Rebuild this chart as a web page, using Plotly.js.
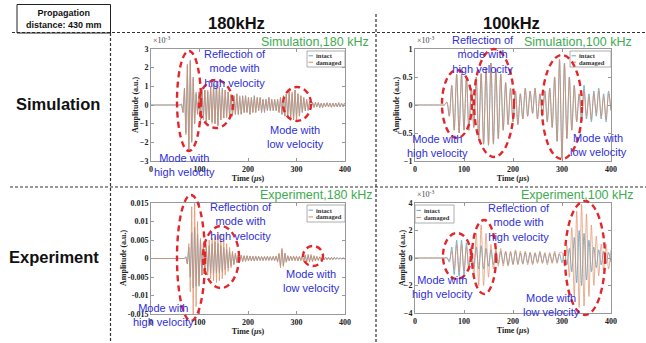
<!DOCTYPE html>
<html><head><meta charset="utf-8">
<script src="https://cdn.plot.ly/plotly-3.0.1.min.js"></script>
<style>html,body{margin:0;padding:0;background:#fff;}#chart{width:646px;height:343px;}</style>
</head><body><div id="chart"></div>
<script>
// ---- data (amplitudes in units of 1e-3, time in microseconds) ----
const step180 = 3;   // sample interval for 180 kHz records (us)
const step100 = 5;   // sample interval for 100 kHz records (us)

const sim180Intact = [0,0,0,0,0,0,0,0,0,0,0,0,0,0,0,0,0,0,0,0,
 0,0.05,-0.4,0.9,-1.5,2.1,-2.4,2.4,-2.0,1.5,-1.0,0.6,-0.5,0.7,-0.8,0.9,-0.7,0.8,-0.9,0.7,
 -0.8,1.0,-0.9,1.1,-1.0,1.2,-1.1,0.9,-0.8,0.9,-0.7,0.8,-0.6,0.7,-0.6,0.5,-0.6,0.5,-0.5,0.6,
 -0.5,0.4,-0.5,0.5,-0.4,0.5,-0.4,0.4,-0.5,0.4,-0.4,0.5,-0.4,0.4,-0.3,0.4,-0.4,0.3,-0.4,0.3,
 -0.3,0.4,-0.3,0.3,-0.3,0.3,-0.3,0.3,-0.4,0.4,-0.5,0.5,-0.6,0.6,-0.6,0.7,-0.7,0.6,-0.8,0.8,
 -0.7,0.6,-0.6,0.5,-0.4,0.4,-0.3,0.3,-0.3,0.2,-0.2,0.15,-0.1,0.15,-0.1,0.12,-0.15,0.1,-0.12,0.1,
 -0.1,0.12,-0.1,0.1,-0.12,0.1,-0.1,0.1,-0.1,0.12,-0.1,0.1,-0.1,0.1];
const sim180Damaged = [0,0,0,0,0,0,0,0,0,0,0,0,0,0,0,0,0,0,0,0,
 0,0.05,-0.4,0.9,-1.6,2.2,-2.5,2.3,-1.9,1.4,-1.0,0.7,-0.5,0.7,-0.9,0.9,-0.8,0.8,-0.9,0.8,
 -0.8,1.0,-1.0,1.1,-1.0,1.3,-1.1,1.0,-0.8,0.8,-0.7,0.8,-0.7,0.7,-0.6,0.6,-0.6,0.5,-0.5,0.6,
 -0.5,0.5,-0.5,0.4,-0.4,0.5,-0.4,0.4,-0.5,0.4,-0.4,0.4,-0.4,0.4,-0.3,0.4,-0.4,0.3,-0.3,0.3,
 -0.3,0.4,-0.3,0.3,-0.3,0.3,-0.3,0.3,-0.4,0.4,-0.5,0.5,-0.6,0.6,-0.7,0.7,-0.7,0.7,-0.8,0.8,
 -0.8,0.6,-0.6,0.5,-0.4,0.4,-0.3,0.3,-0.2,0.2,-0.2,0.15,-0.15,0.12,-0.1,0.15,-0.1,0.1,-0.15,0.1,
 -0.1,0.12,-0.1,0.1,-0.12,0.1,-0.1,0.1,-0.1,0.12,-0.1,0.1,-0.1,0.1];

const sim100Intact = [0,0,0,0,0,0,0,0,0,0,0,0,
 0,0.05,-0.2,0.35,-0.45,0.55,-0.5,0.55,-0.45,0.5,-0.45,0.3,-0.4,0.5,-0.6,0.55,-0.7,0.65,-0.72,0.75,
 -0.7,0.65,-0.6,0.55,-0.45,0.4,-0.35,0.3,-0.3,0.25,-0.35,0.2,-0.25,0.3,-0.2,0.25,-0.15,0.3,-0.25,0.2,
 -0.2,0.25,-0.3,0.3,-0.4,0.5,-0.65,0.8,-0.95,0.75,-0.6,0.5,-0.45,0.35,-0.3,0.2,-0.3,0.35,-0.25,0.2,
 -0.3,0.25,-0.2,0.3,-0.25,0.2,-0.3,0.25,-0.1];
const sim100Damaged = [0,0,0,0,0,0,0,0,0,0,0,0,
 0,0.05,-0.2,0.35,-0.45,0.55,-0.5,0.55,-0.45,0.5,-0.45,0.3,-0.4,0.5,-0.6,0.57,-0.7,0.67,-0.7,0.75,
 -0.68,0.65,-0.6,0.55,-0.45,0.4,-0.35,0.3,-0.3,0.25,-0.35,0.2,-0.25,0.3,-0.2,0.25,-0.15,0.3,-0.25,0.2,
 -0.2,0.25,-0.3,0.3,-0.4,0.5,-0.65,0.82,-0.95,0.75,-0.6,0.5,-0.45,0.35,-0.3,0.2,-0.2,0.25,-0.2,0.15,
 -0.25,0.2,-0.15,0.25,-0.2,0.15,-0.25,0.2,-0.1];

const exp180Intact = [0,0,0,0,0,0,0,0,0,0,0,0,0,0,0,0,0,0,0,0,0,0,0,
 0,0.5,-1.5,3,-5,7,-8,8.5,-7.5,6.5,-7.5,5,-4.5,3.5,-3,3,-3.5,3.5,-4,4,
 -4,4.5,-4,4,-4,3.5,-3.5,3,-3,2.5,-2.5,2,-2,1.5,-1.5,1.2,-1.0,0.9,-0.8,0.9,
 -0.8,0.7,-0.8,0.7,-0.6,0.7,-0.6,0.6,-0.7,0.6,-0.5,0.6,-0.5,0.5,-0.6,0.5,-0.5,0.6,-0.5,0.5,
 -0.5,0.6,-0.5,0.6,-0.8,1.2,-2.0,2.4,-2.0,1.4,-1.0,0.7,-0.6,0.6,-0.5,0.6,-0.5,0.5,-0.6,0.5,
 -0.5,0.6,-0.7,0.8,-0.9,0.8,-0.7,0.8,-0.7,0.6,-0.6,0.5,-0.5,0.4,-0.4,0.4,-0.3,0.4,-0.3,0.3,
 -0.3,0.3,-0.3,0.3,-0.2,0.3,-0.2,0.2,-0.2,0.2,-0.2];
const exp180Damaged = [0,0,0,0,0,0,0,0,0,0,0,0,0,0,0,0,0,0,0,0,0,0,0,0,
 0.3,-1.5,4,-9,14,-16,16.5,-13,10,-7,5.5,-4.5,4,-3.5,4,-4.5,5,-5.5,5.5,-6,
 6,-6.5,7,-6,6.5,-5.5,5,-4.5,4,-3.5,3,-2.5,2,-1.8,1.5,-1.2,1.0,-0.9,0.8,-0.9,
 0.8,-0.7,0.8,-0.7,0.6,-0.7,0.6,-0.6,0.7,-0.6,0.5,-0.6,0.5,-0.5,0.6,-0.5,0.5,-0.6,0.5,-0.5,
 0.5,-0.6,0.7,-1.0,1.5,-2.5,2.8,-2.2,1.5,-1.0,0.8,-0.7,0.6,-0.6,0.7,-0.6,0.6,-0.7,0.6,-0.6,
 0.7,-0.8,1.0,-1.1,1.2,-1.0,1.1,-0.9,0.8,-0.7,0.6,-0.5,0.5,-0.4,0.4,-0.4,0.3,-0.3,0.3,-0.3,
 0.3,-0.2,0.3,-0.2,0.2,-0.2,0.2,-0.2,0.2,-0.1];

const exp100Intact = [0,0,0,0,0,0,0,0,0,0,0,0,0,
 0.05,-0.3,0.8,-1.2,1.3,-1.3,1.3,-1.2,1.1,-0.9,0.8,-0.7,0.8,-0.8,0.9,-0.8,0.7,-0.6,0.6,-0.5,
 0.5,-0.4,0.5,-0.4,0.45,-0.5,0.4,-0.45,0.5,-0.4,0.35,-0.45,0.4,-0.35,0.4,-0.4,0.35,-0.3,0.4,-0.35,
 0.3,-0.35,0.3,-0.3,0.35,-0.3,0.3,-0.35,0.4,-0.5,0.7,-1.0,1.5,-1.8,2.0,-2.0,1.8,-1.6,1.3,-1.0,
 0.8,-0.7,0.6,-0.5,0.5,-0.4,0.4,-0.3];
const exp100Damaged = [0,0,0,0,0,0,0,0,0,0,0,0,0,
 0.0,-0.2,0.5,-0.8,1.0,-1.0,1.0,-0.9,0.8,-0.8,0.9,-1.3,1.8,-2.0,2.4,-2.0,1.8,-1.4,1.0,-0.8,
 0.7,-0.6,0.7,-0.6,0.5,-0.6,0.5,-0.5,0.6,-0.5,0.5,-0.4,0.5,-0.5,0.4,-0.5,0.4,-0.4,0.5,-0.4,
 0.4,-0.5,0.4,-0.4,0.5,-0.4,0.4,0.4,-0.6,0.9,-1.4,2.2,-2.8,3.4,-3.6,3.9,-3.5,3.2,-2.8,2.4,
 -2.0,1.6,-1.3,1.0,-0.9,1.0,-0.8,0.6];

const seriesNames = ['intact', 'damaged'];
const xTickVals = [0, 100, 200, 300, 400];
const exp180TickVals = [-15, -10, -5, 0, 5, 10, 15];
const exp180TickText = ['-0.015', '-0.01', '-0.005', '0', '0.005', '0.01', '0.015'];

// ---- layout helpers ----
const W = 646, H = 343;
const px = x => x / W;
const py = y => 1 - y / H;
const colIntact = '#6aa6c4';
const colDamaged = '#e0895f';
const serif = 'Liberation Serif, Times New Roman, serif';
const sans = 'Liberation Sans, Arial, sans-serif';

function times(vals, step) { return vals.map((_, i) => i * step); }

function pair(intact, damaged, step, ax, shape) {
  const xa = 'x' + (ax === 1 ? '' : ax), ya = 'y' + (ax === 1 ? '' : ax);
  return [
    {x: times(intact, step), y: intact, type: 'scatter', mode: 'lines', name: seriesNames[0],
     line: {color: colIntact, width: 0.9, shape: shape, smoothing: 0.8}, xaxis: xa, yaxis: ya, showlegend: false},
    {x: times(damaged, step), y: damaged, type: 'scatter', mode: 'lines', name: seriesNames[1],
     line: {color: colDamaged, width: 0.9, shape: shape, smoothing: 0.8}, opacity: 0.75, xaxis: xa, yaxis: ya, showlegend: false}
  ];
}

const traces = [
  ...pair(sim180Intact, sim180Damaged, step180, 1, 'linear'),
  ...pair(sim100Intact, sim100Damaged, step100, 2, 'spline'),
  ...pair(exp180Intact, exp180Damaged, step180, 3, 'linear'),
  ...pair(exp100Intact, exp100Damaged, step100, 4, 'spline')
];

const tickFont = {family: serif, size: 8, color: '#222', weight: 'bold'};
const titleFont = {family: serif, size: 8, color: '#222', weight: 'bold'};
function xAxis(dom, anchor) {
  return {domain: dom, anchor: anchor, range: [0, 400], tickvals: xTickVals, ticks: 'inside', ticklen: 3,
    tickcolor: '#999', showline: true, linecolor: '#999', linewidth: 1, mirror: 'ticks', showgrid: false,
    zeroline: false, tickfont: tickFont, fixedrange: true,
    title: {text: 'Time (<i>μ</i>s)', font: titleFont, standoff: 1}};
}
function yAxis(dom, anchor, range, extra) {
  return Object.assign({domain: dom, anchor: anchor, range: range, ticks: 'inside', ticklen: 3,
    tickcolor: '#999', showline: true, linecolor: '#999', linewidth: 1, mirror: 'ticks', showgrid: false,
    zeroline: false, tickfont: tickFont, fixedrange: true}, extra);
}

const xL = [px(151), px(345)], xR = [px(415), px(611)];
const yT = [py(161), py(49)], yB = [py(314), py(203)], yB2 = [py(313), py(203)];

const blue = '#2f2fd8';
const green = '#3eab4f';
function note(text, x, y, opts) {
  return Object.assign({xref: 'paper', yref: 'paper', x: px(x), y: py(y), text: text, showarrow: false,
    xanchor: 'center', yanchor: 'middle', font: {family: sans, size: 11, color: blue}}, opts || {});
}
const annotations = [
  note('<b>Propagation<br>distance: 430 mm</b>', 64, 19, {font: {family: sans, size: 9, color: '#111'}}),
  note('<b>180kHz</b>', 236, 23, {font: {family: sans, size: 16.5, color: '#111'}}),
  note('<b>100kHz</b>', 511, 23, {font: {family: sans, size: 16.5, color: '#111'}}),
  note('<b>Simulation</b>', 58, 104, {font: {family: sans, size: 16.5, color: '#111'}}),
  note('<b>Experiment</b>', 54, 257, {font: {family: sans, size: 16.5, color: '#111'}}),
  note('Simulation,180 kHz', 259, 42, {xanchor: 'left', font: {family: sans, size: 12.5, color: green}}),
  note('Simulation,100 kHz', 522, 42, {xanchor: 'left', font: {family: sans, size: 12.5, color: green}}),
  note('Experiment,180 kHz', 258, 195, {xanchor: 'left', font: {family: sans, size: 12.5, color: green}}),
  note('Experiment,100 kHz', 519, 195, {xanchor: 'left', font: {family: sans, size: 12.5, color: green}}),
  note('×10<sup>-3</sup>', 151, 47, {xanchor: 'left', yanchor: 'bottom', font: {family: serif, size: 8, color: '#444'}}),
  note('×10<sup>-3</sup>', 415, 47, {xanchor: 'left', yanchor: 'bottom', font: {family: serif, size: 8, color: '#444'}}),
  note('×10<sup>-3</sup>', 415, 201, {xanchor: 'left', yanchor: 'bottom', font: {family: serif, size: 8, color: '#444'}}),
  // y-axis titles
  note('Amplitude (a.u.)', 135, 105, {textangle: -90, font: titleFont}),
  note('Amplitude (a.u.)', 396, 105, {textangle: -90, font: titleFont}),
  note('Amplitude (a.u.)', 123, 258, {textangle: -90, font: titleFont}),
  note('Amplitude (a.u.)', 402, 258, {textangle: -90, font: titleFont}),
  // blue explanatory notes
  note('Reflection of<br>mode with<br>high velocity', 235, 68),
  note('Mode with<br>low velocity', 295, 137),
  note('Mode with<br>high velocity', 185, 165),
  note('Reflection of<br>mode with<br>high velocity', 483, 55),
  note('Mode with<br>high velocity', 437, 146),
  note('Mode with<br>low velocity', 598, 145),
  note('Reflection of<br>mode with<br>high velocity', 241, 221),
  note('Mode with<br>low velocity', 311, 281),
  note('Mode with<br>high velocity', 163, 315),
  note('Reflection of<br>mode with<br>high velocity', 519, 222),
  note('Mode with<br>high velocity', 442, 287),
  note('Mode with<br>low velocity', 551, 305)
];

const ellipses = [
  [189,101,12,50],[216,104,17,24],[297,104,14,17],
  [457,104,15,34],[494,103,20,54],[562,107,20,52],
  [191,258,14,63],[221,257,18,31],[313,256,10,10],
  [457,256,14,23],[484,257,12,37],[585,258,20,57]
];
const shapes = [];

// compact MATLAB-style legend boxes [left, top, width, height]
const legendBoxes = [[307,51,38,16],[570,51,41,16],[307,205,38,17],[415,205,39,18]];
legendBoxes.forEach(b => {
  const [l, t, w, h] = b;
  shapes.push({type: 'rect', xref: 'paper', yref: 'paper', x0: px(l), x1: px(l+w), y0: py(t+h), y1: py(t),
    fillcolor: '#fff', line: {color: '#999', width: 0.8}, layer: 'above'});
  [colIntact, colDamaged].forEach((c, k) => {
    const yy = t + h * (k === 0 ? 0.3 : 0.7);
    shapes.push({type: 'line', xref: 'paper', yref: 'paper', x0: px(l+1.5), x1: px(l+6), y0: py(yy), y1: py(yy),
      line: {color: c, width: 1}, layer: 'above'});
    annotations.push(note(seriesNames[k], l + 6.5, yy, {xanchor: 'left',
      font: {family: serif, size: 6.5, color: '#333', weight: 'bold'}}));
  });
});

ellipses.forEach(e => shapes.push({type: 'circle', xref: 'paper', yref: 'paper',
  x0: px(e[0]-e[2]), x1: px(e[0]+e[2]), y0: py(e[1]+e[3]), y1: py(e[1]-e[3]),
  line: {color: '#e3262b', width: 2.4, dash: '6px,4px'}, layer: 'above'}));
const dashLine = {color: '#333', width: 1.2, dash: '3px,2px'};
shapes.push({type: 'line', xref: 'paper', yref: 'paper', x0: px(12), x1: px(646), y0: py(32.5), y1: py(32.5), line: dashLine});
shapes.push({type: 'line', xref: 'paper', yref: 'paper', x0: px(10), x1: px(646), y0: py(187), y1: py(187), line: dashLine});
shapes.push({type: 'line', xref: 'paper', yref: 'paper', x0: px(110.5), x1: px(110.5), y0: py(33), y1: py(343), line: dashLine});
shapes.push({type: 'line', xref: 'paper', yref: 'paper', x0: px(376), x1: px(376), y0: py(14), y1: py(343), line: dashLine});
shapes.push({type: 'rect', xref: 'paper', yref: 'paper', x0: px(17), x1: px(110.5), y0: py(33), y1: py(4.5),
  line: {color: '#222', width: 1}});

const layout = {
  width: W, height: H, margin: {l: 0, r: 0, t: 0, b: 0}, paper_bgcolor: '#fff', plot_bgcolor: '#fff',
  showlegend: false,
  xaxis: xAxis(xL, 'y'), yaxis: yAxis(yT, 'x', [-3, 3], {dtick: 1}),
  xaxis2: xAxis(xR, 'y2'), yaxis2: yAxis(yT, 'x2', [-1, 1], {dtick: 0.5}),
  xaxis3: xAxis(xL, 'y3'), yaxis3: yAxis(yB, 'x3', [-15, 15], {tickvals: exp180TickVals, ticktext: exp180TickText}),
  xaxis4: xAxis(xR, 'y4'), yaxis4: yAxis(yB2, 'x4', [-4, 4], {dtick: 2}),
  annotations: annotations, shapes: shapes
};

Plotly.newPlot('chart', traces, layout, {displayModeBar: false, staticPlot: true});
</script></body></html>
